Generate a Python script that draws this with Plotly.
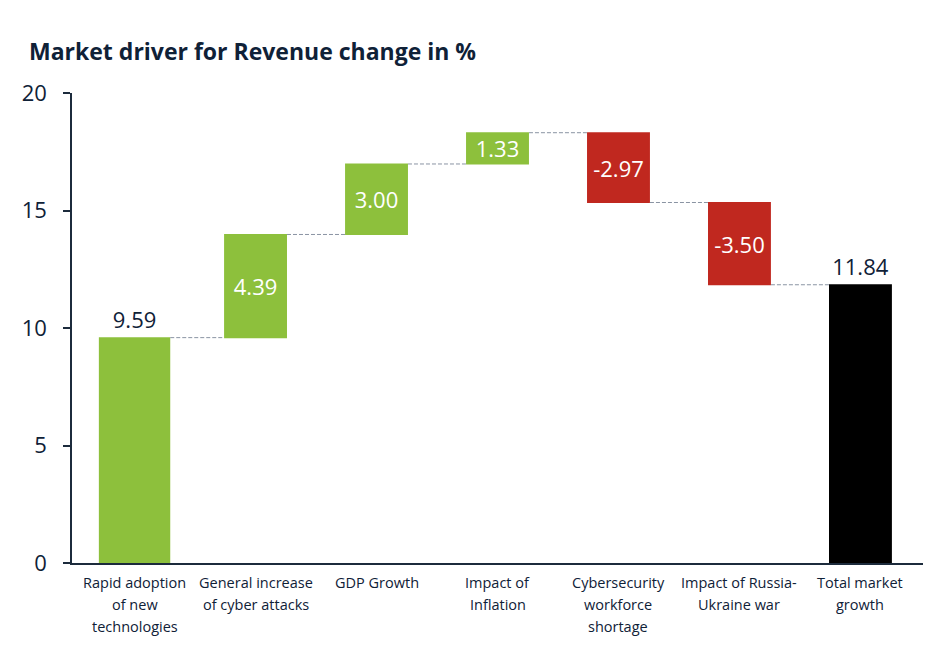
import plotly.graph_objects as go

categories = [
    "Rapid adoption<br>of new<br>technologies",
    "General increase<br>of cyber attacks",
    "GDP Growth",
    "Impact of<br>Inflation",
    "Cybersecurity<br>workforce<br>shortage",
    "Impact of Russia-<br>Ukraine war",
    "Total market<br>growth",
]
values = [9.59, 4.39, 3.00, 1.33, -2.97, -3.50, 11.84]
measures = ["relative"] * 6 + ["total"]
y_ticks = [0, 5, 10, 15, 20]

NAVY = "#0F2137"
GREEN = "#8DC03C"
RED = "#C0281F"
FONT = "Open Sans"

labels = [f"{v:.2f}" for v in values]
positions = ["outside", "inside", "inside", "inside", "inside", "inside", "outside"]
widths = [0.59, 0.52, 0.52, 0.52, 0.52, 0.52, 0.52]
xs = list(range(len(categories)))

fig = go.Figure(go.Waterfall(
    x=xs,
    y=values,
    measure=measures,
    text=labels,
    textposition=positions,
    width=widths,
    constraintext="none",
    insidetextanchor="middle",
    textfont=dict(family=FONT, size=22, color=NAVY),
    insidetextfont=dict(family=FONT, size=22, color="white"),
    outsidetextfont=dict(family=FONT, size=22, color=NAVY),
    increasing=dict(marker=dict(color=GREEN)),
    decreasing=dict(marker=dict(color=RED)),
    totals=dict(marker=dict(color="#000000")),
    connector=dict(mode="between", line=dict(color="#8A94A3", width=1, dash="4px,2px")),
    hoverinfo="skip",
    cliponaxis=False,
))

# category labels: one annotation per text line, for the reference's line spacing
LINE_GAP = 22
FIRST_OFFSET = 19
for xi, cat in zip(xs, categories):
    for i, line in enumerate(cat.split("<br>")):
        fig.add_annotation(
            x=xi, xref="x", y=0, yref="paper",
            text=line, showarrow=False,
            xanchor="center", yanchor="middle",
            yshift=-(FIRST_OFFSET + LINE_GAP * i),
            font=dict(family=FONT, size=14.5, color=NAVY),
        )

fig.update_layout(
    width=944, height=656,
    margin=dict(l=72, r=21, t=93, b=93, autoexpand=False),
    paper_bgcolor="white", plot_bgcolor="white",
    showlegend=False,
    font=dict(family=FONT, color=NAVY),
    title=dict(
        text="<b>Market driver for Revenue change in %</b>",
        x=29 / 944, xanchor="left", xref="container",
        y=1 - 52 / 656, yanchor="middle", yref="container",
        pad=dict(l=0, r=0, t=0, b=0),
        font=dict(family=FONT, size=23, color=NAVY),
    ),
    xaxis=dict(
        tickmode="array",
        tickvals=xs,
        showticklabels=False,
        range=[-0.517, 6.517],
        showline=True, linecolor="#1C2B3C", linewidth=2,
        ticks="", showgrid=False, zeroline=False,
        automargin=False,
    ),
    yaxis=dict(
        range=[0, 20],
        tickmode="array", tickvals=y_ticks,
        showline=True, linecolor="#1C2B3C", linewidth=1.5,
        ticks="outside", ticklen=7, tickcolor="#1C2B3C", tickwidth=1.5,
        showgrid=False, zeroline=False,
        tickfont=dict(family=FONT, size=22, color=NAVY),
        ticklabelstandoff=12,
        automargin=False,
    ),
)

fig.write_html(
    "out.html",
    config={"displayModeBar": False},
    post_script="document.body.style.margin='0';document.body.style.overflow='hidden';",
)
